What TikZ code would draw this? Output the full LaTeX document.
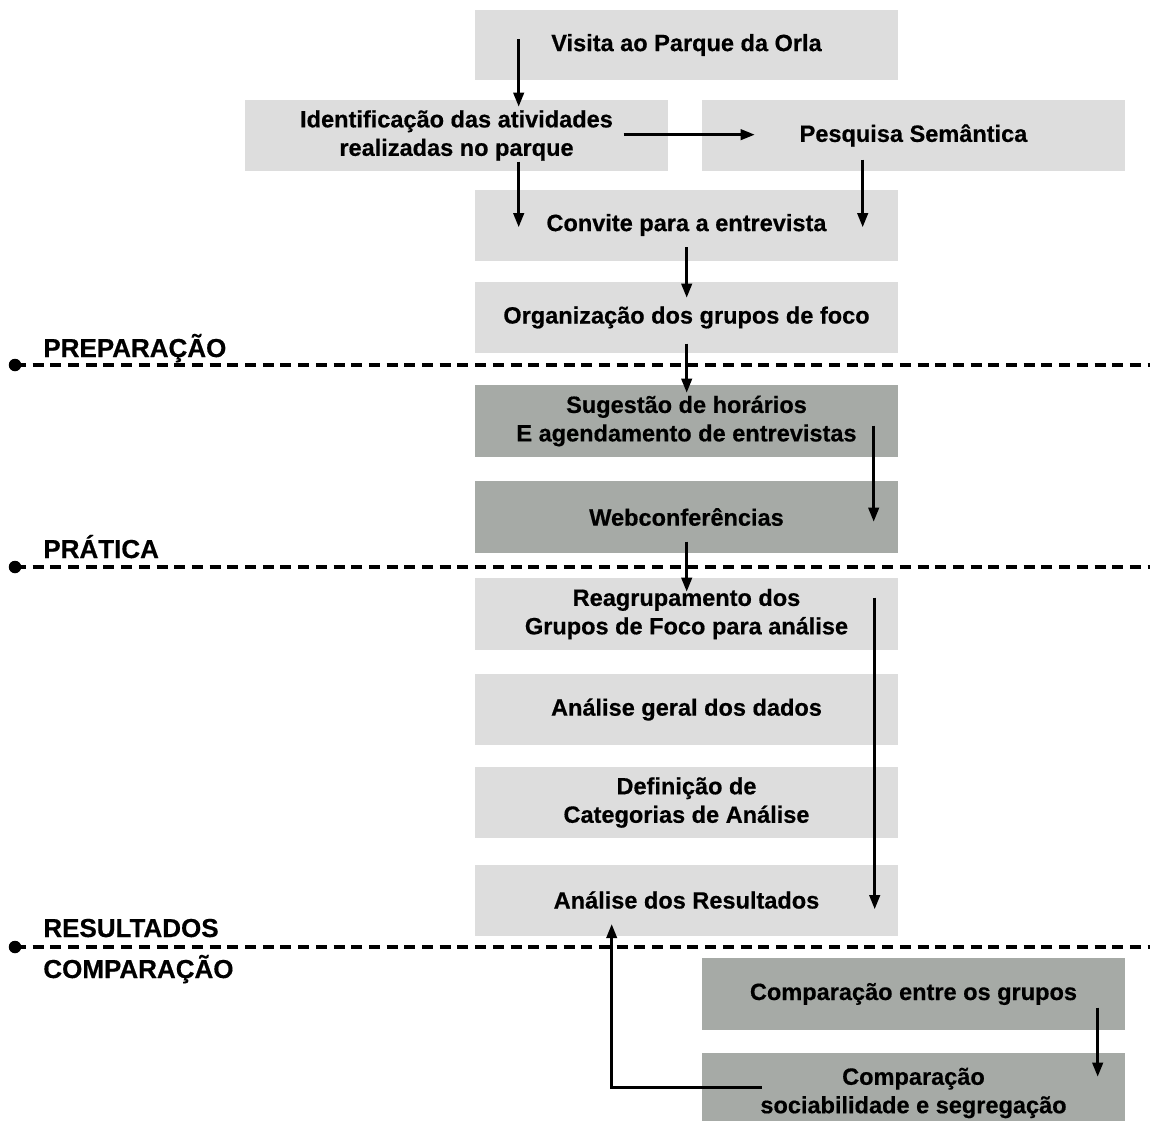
\documentclass[tikz,border=0pt]{standalone}
\usepackage{fontspec}
\setmainfont{Liberation Sans}[BoldFeatures={FakeBold=0.5}]
\usetikzlibrary{arrows.meta,calc}
\definecolor{lightg}{RGB}{221,221,221}
\definecolor{darkg}{RGB}{166,170,166}
\tikzset{
  lbox/.style={fill=lightg, draw=none, minimum width=8.46cm, minimum height=1.42cm,
    inner sep=0pt, align=center, font=\fontsize{13.4}{16.2}\selectfont\bfseries},
  dbox/.style={lbox, fill=darkg},
  arr/.style={line width=1.4pt, -{Triangle[length=0.28cm,width=0.21cm]}},
  phase/.style={dash pattern=on 0.22cm off 0.134cm, line width=2.1pt},
  pdot/.style={circle, fill=black, inner sep=0pt, minimum size=0.25cm},
  plabel/.style={anchor=base west, inner sep=0pt, font=\fontsize{14.8}{17}\selectfont\bfseries}
}
\begin{document}
\begin{tikzpicture}[x=0.02cm, y=-0.02cm]
\useasboundingbox (0,0) rectangle (1150,1120);

% boxes
\node[lbox] (visita) at (686.5,45) {Visita ao Parque da Orla};
\node[lbox] (ident) at (456.5,135.5) {Identificação das atividades\\realizadas no parque};
\node[lbox] (pesq) at (913.5,135.5) {Pesquisa Semântica};
\node[lbox] (convite) at (686.5,225) {Convite para a entrevista};
\node[lbox] (org) at (686.5,317.5) {Organização dos grupos de foco};
\node[dbox, minimum height=1.44cm] (sug) at (686.5,421) {Sugestão de horários\\E agendamento de entrevistas};
\node[dbox, minimum height=1.44cm] (web) at (686.5,517) {Webconferências};
\node[lbox, minimum height=1.44cm] (reag) at (686.5,614) {Reagrupamento dos\\Grupos de Foco para análise};
\node[lbox] (geral) at (686.5,709.5) {Análise geral dos dados};
\node[lbox] (defin) at (686.5,802.5) {Definição de\\Categorias de Análise};
\node[lbox] (result) at (686.5,900) {Análise dos Resultados};
\node[dbox, minimum height=1.44cm] (compg) at (913.5,994) {Comparação entre os grupos};
\node[dbox, minimum height=1.6cm] (compsoc) at (913.5,1093) {Comparação\\sociabilidade e segregação};

% phase separators
\node[pdot] (d1) at (15,365) {};
\coordinate (e1) at (1150,365);
\node[pdot] (d2) at (15,567) {};
\coordinate (e2) at (1150,567);
\node[pdot] (d3) at (15,947) {};
\coordinate (e3) at (1150,947);
\draw[phase] (d1.center) -- (e1);
\draw[phase] (d2.center) -- (e2);
\draw[phase] (d3.center) -- (e3);

\node[plabel] (lprep) at (43,357) {PREPARAÇÃO};
\node[plabel] (lprat) at (43,558) {PRÁTICA};
\node[plabel] (lres) at (43,937) {RESULTADOS};
\node[plabel] (lcomp) at (43,978) {COMPARAÇÃO};

% connectors
\draw[arr] ($(visita.north west)+(44,30)$) -- ($(ident.north west)+(274,7)$);
\draw[arr] ($(ident.north west)+(379,35)$) -- ($(pesq.north west)+(53,35)$);
\draw[arr] ($(ident.north west)+(274,62)$) -- ($(convite.north west)+(44,38)$);
\draw[arr] ($(pesq.north west)+(161,60)$) -- ($(convite.north west)+(388,38)$);
\draw[arr] ($(convite.north west)+(212,58)$) -- ($(org.north west)+(212,16)$);
\draw[arr] ($(org.north west)+(212,62)$) -- ($(sug.north west)+(212,8)$);
\draw[arr] ($(sug.north west)+(399,41)$) -- ($(web.north west)+(399,41)$);
\draw[arr] ($(web.north west)+(212,61)$) -- ($(reag.north west)+(212,14)$);
\draw[arr] ($(reag.north west)+(400,20)$) -- ($(result.north west)+(400,45)$);
\draw[arr] ($(compg.north west)+(396,50)$) -- ($(compsoc.north west)+(396,24)$);
\draw[arr] ($(compsoc.north west)+(60,35)$) -| ($(result.north west)+(137,60)$);
\end{tikzpicture}
\end{document}
